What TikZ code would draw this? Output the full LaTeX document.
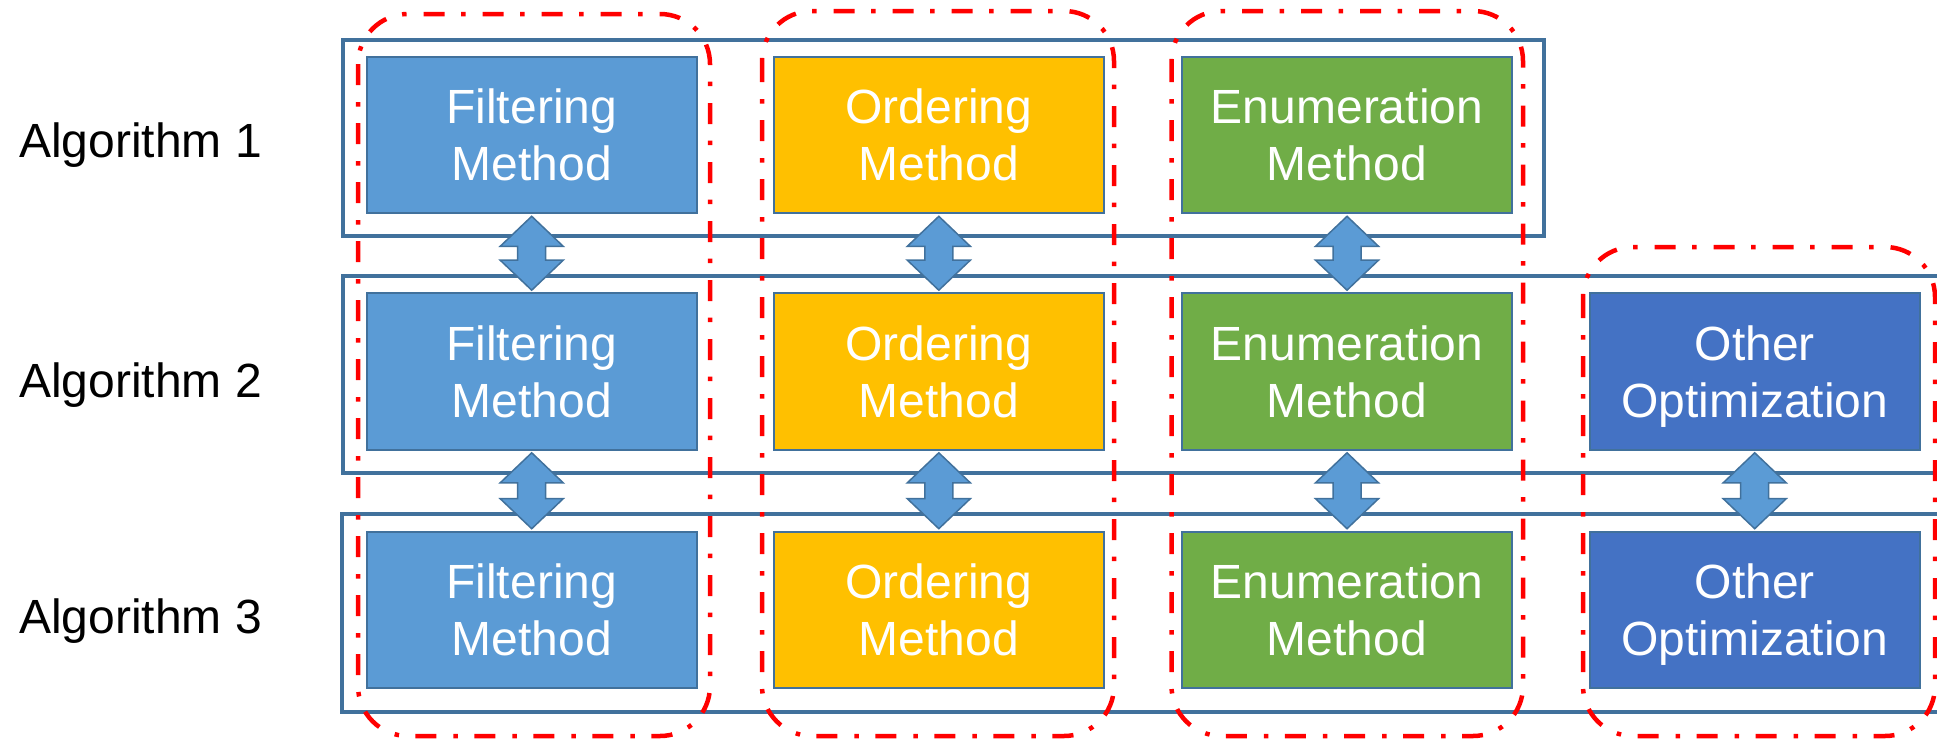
\documentclass[tikz,border=0pt]{standalone}
\usepackage{fontspec}
\setmainfont{Liberation Sans}
\usetikzlibrary{calc}

\definecolor{frameblue}{HTML}{41719C}
\definecolor{filterfill}{HTML}{5B9BD5}
\definecolor{orderfill}{HTML}{FFC000}
\definecolor{enumfill}{HTML}{70AD47}
\definecolor{otherfill}{HTML}{4472C4}
\definecolor{groupred}{HTML}{FF0000}

% two-headed block arrow between the bottom of one box and the top of the next
\newcommand{\linkarrow}[2]{%
  \draw[linkstyle] let \p1=(#1.south), \p2=(#2.north) in
    (\x1,\y1-2pt) -- ++(31.5pt,-30pt) -- ++(-17.5pt,0pt)
    -- (\x1+14pt,\y2+32pt) -- ++(17.5pt,0pt) -- (\x1,\y2+2pt)
    -- ++(-31.5pt,30pt) -- ++(17.5pt,0pt) -- (\x1-14pt,\y1-32pt)
    -- ++(-17.5pt,0pt) -- cycle;}

\begin{document}
\begin{tikzpicture}[x=1pt,y=-1pt,
  rowframe/.style={draw=frameblue, line width=4pt},
  methodbox/.style={draw=frameblue, line width=2pt, minimum width=330pt,
    minimum height=156.6pt, inner sep=0pt, text=white, align=center,
    text depth=0pt, font=\fontsize{48}{57}\selectfont},
  filterbox/.style={methodbox, fill=filterfill},
  orderbox/.style={methodbox, fill=orderfill},
  enumbox/.style={methodbox, fill=enumfill},
  otherbox/.style={methodbox, fill=otherfill},
  algolabel/.style={anchor=base west, inner sep=0pt, text=black,
    font=\fontsize{48}{57}\selectfont},
  linkstyle/.style={draw=frameblue, line width=1.5pt, fill=filterfill, line join=miter},
  groupframe/.style={draw=groupred, line width=4.5pt, rounded corners=50pt,
    dash pattern=on 21pt off 17pt on 4.5pt off 16.5pt}
]
\useasboundingbox (0,0) rectangle (1937,739);
\clip (0,0) rectangle (1937,739);

% one frame per algorithm
\draw[rowframe] (343,39.5) rectangle (1543.5,236);
\draw[rowframe] (343,276) rectangle (1950,473);
\draw[rowframe] (342,514) rectangle (1950,711.5);

% row labels
\node[algolabel] (alg1) at (19,157.7) {Algorithm 1};
\node[algolabel] (alg2) at (19,397) {Algorithm 2};
\node[algolabel] (alg3) at (19,633) {Algorithm 3};

% method boxes
\node[filterbox] (f1) at (531.7,135) {Filtering\\Method};
\node[orderbox]  (o1) at (938.8,135) {Ordering\\Method};
\node[enumbox]   (e1) at (1347,135) {Enumeration\\Method};

\node[filterbox] (f2) at (531.7,371.5) {Filtering\\Method};
\node[orderbox]  (o2) at (938.8,371.5) {Ordering\\Method};
\node[enumbox]   (e2) at (1347,371.5) {Enumeration\\Method};
\node[otherbox]  (x2) at (1754.7,371.5) {Other\\Optimization};

\node[filterbox] (f3) at (531.7,610) {Filtering\\Method};
\node[orderbox]  (o3) at (938.8,610) {Ordering\\Method};
\node[enumbox]   (e3) at (1347,610) {Enumeration\\Method};
\node[otherbox]  (x3) at (1754.7,610) {Other\\Optimization};

% links between corresponding methods
\linkarrow{f1}{f2}
\linkarrow{o1}{o2}
\linkarrow{e1}{e2}
\linkarrow{f2}{f3}
\linkarrow{o2}{o3}
\linkarrow{e2}{e3}
\linkarrow{x2}{x3}

% groups of the same kind of method
\draw[groupframe] (358,14) rectangle (710,736);
\draw[groupframe] (762,11) rectangle (1114,736);
\draw[groupframe] (1171.5,11) rectangle (1523,736);
\draw[groupframe] (1583,247) rectangle (1935,736);
\end{tikzpicture}
\end{document}
